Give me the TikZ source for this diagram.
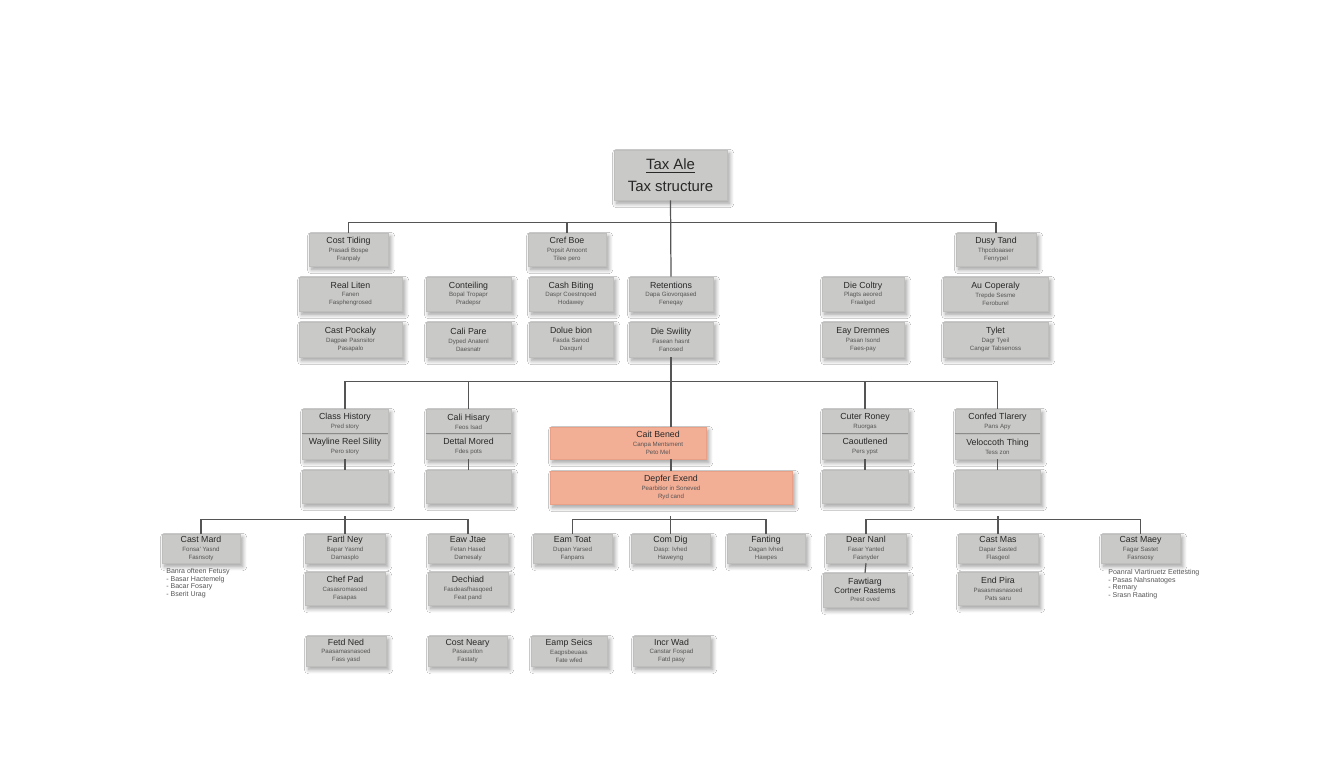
\documentclass[tikz,border=0pt]{standalone}
\usepackage{fontspec}
\setmainfont{Liberation Sans}
\usetikzlibrary{shadows.blur}
\definecolor{boxgray}{RGB}{201,201,199}
\definecolor{boxedge}{RGB}{190,190,188}
\definecolor{boxorange}{RGB}{243,174,150}
\definecolor{orangeedge}{RGB}{232,160,134}
\definecolor{linkgray}{RGB}{85,85,85}
\definecolor{inkgray}{RGB}{40,40,40}
\definecolor{subgray}{RGB}{85,85,85}
\newcommand{\cardtext}[3]{{\fontsize{5}{6}\selectfont\color{inkgray}#1}\\[0.4pt]#2\\#3}
\newcommand{\halftext}[2]{{\fontsize{5}{6}\selectfont\color{inkgray}#1}\\[0.4pt]#2}
\tikzset{
  flat/.style={draw=boxedge, line width=0.3pt, fill=boxgray, inner sep=0pt, align=center,
    text=subgray, font=\fontsize{3.5}{4.6}\selectfont},
  card/.style={flat,
    blur shadow={shadow xshift=1.5pt, shadow yshift=-2pt, shadow blur radius=2.4pt,
      shadow blur steps=10, shadow opacity=40}},
  hotcard/.style={card, fill=boxorange, draw=orangeedge},
  wd/.style={minimum width=#1*0.02cm},
  ht/.style={minimum height=#1*0.02cm},
  link/.style={draw=linkgray, line width=0.7pt},
  divider/.style={draw=black!45, line width=0.5pt},
  notes/.style={anchor=north west, align=left, inner sep=0pt, text=subgray, font=\fontsize{4}{4.4}\selectfont},
}

\begin{document}
\begin{tikzpicture}[x=0.02cm, y=-0.02cm]
  %%%%% START %%%%%
  \fill[white] (0,0) rectangle (1344,768);
  \useasboundingbox (0,0) rectangle (1344,768);

  \node[card, wd=113, ht=50, text=inkgray, font=\fontsize{8.5}{12.5}\selectfont] (root) at (670.5,175) {\underline{Tax Ale}\\Tax structure};

  % first row
  \node[card, wd=79, ht=33] (tiding) at (348.5,249.5) {\cardtext{Cost Tiding}{Prasadi Bospe}{Franpaly}};
  \node[card, wd=78, ht=33] (cref) at (567,249.5) {\cardtext{Cref Boe}{Popsit Amoont}{Tilee pero}};
  \node[card, wd=80, ht=33] (dusy) at (996,249.5) {\cardtext{Dusy Tand}{Thpcdoaaser}{Fenrypel}};

  \node[card, wd=103, ht=34] (liten) at (350.5,294) {\cardtext{Real Liten}{Fanen}{Fasphengrosed}};
  \node[card, wd=85, ht=34] (conteil) at (468.5,294) {\cardtext{Conteiling}{Bopal Tropapr}{Pradepsr}};
  \node[card, wd=84, ht=34] (biting) at (571,294) {\cardtext{Cash Biting}{Daspr Coestnqoed}{Hodawey}};
  \node[card, wd=84, ht=34] (retent) at (671,294) {\cardtext{Retentions}{Dapa Giovorqased}{Feneqay}};
  \node[card, wd=82, ht=34] (coltry) at (863,294) {\cardtext{Die Coltry}{Plagts aeored}{Fraalged}};
  \node[card, wd=105, ht=34] (coper) at (995.5,294) {\cardtext{Au Coperaly}{Trepde Sesme}{Feroburel}};

  \node[card, wd=103, ht=35] (pockaly) at (350.5,339.5) {\cardtext{Cast Pockaly}{Dagpae Pasnsitor}{Pasapalo}};
  \node[card, wd=85, ht=35] (pare) at (468.5,339.5) {\cardtext{Cali Pare}{Dyped Anatenl}{Daesnatr}};
  \node[card, wd=84, ht=35] (dolue) at (571,339.5) {\cardtext{Dolue bion}{Fasda Sanod}{Daxqunl}};
  \node[card, wd=84, ht=35] (swility) at (671,339.5) {\cardtext{Die Swility}{Fasean hasnt}{Fanosed}};
  \node[card, wd=82, ht=35] (dremnes) at (863,339.5) {\cardtext{Eay Dremnes}{Pasan Isond}{Faes-pay}};
  \node[card, wd=105, ht=35] (tylet) at (995.5,339.5) {\cardtext{Tylet}{Dagr Tyeil}{Cangar Tabsenoss}};

  % second row
  \node[card, wd=86, ht=50] (cellA) at (345,434) {};
  \node[flat, wd=86, ht=25] (hiA) at (345,421.5) {\halftext{Class History}{Pred story}};
  \node[flat, wd=86, ht=25] (loA) at (345,446.5) {\halftext{Wayline Reel Sility}{Pero story}};
  \node[card, wd=85, ht=50] (cellB) at (468.5,434) {};
  \node[flat, wd=85, ht=25] (hiB) at (468.5,421.5) {\halftext{Cali Hisary}{Feos Isad}};
  \node[flat, wd=85, ht=25] (loB) at (468.5,446.5) {\halftext{Dettal Mored}{Fdes pots}};
  \node[card, wd=86, ht=50] (cellC) at (865,434) {};
  \node[flat, wd=86, ht=25] (hiC) at (865,421.5) {\halftext{Cuter Roney}{Ruorgas}};
  \node[flat, wd=86, ht=25] (loC) at (865,446.5) {\halftext{Caoutlened}{Pers ypst}};
  \node[card, wd=85, ht=50] (cellD) at (997.5,434) {};
  \node[flat, wd=85, ht=25] (hiD) at (997.5,421.5) {\halftext{Confed Tlarery}{Pans Apy}};
  \node[flat, wd=85, ht=25] (loD) at (997.5,446.5) {\halftext{Veloccoth Thing}{Tess zon}};
  \foreach \n in {A,B,C,D}
    \draw[divider] (lo\n.north west) -- (lo\n.north east);

  \node[card, wd=86, ht=33] (blankA) at (345,486.5) {};
  \node[card, wd=85, ht=33] (blankB) at (468.5,486.5) {};
  \node[card, wd=86, ht=33] (blankC) at (865,486.5) {};
  \node[card, wd=85, ht=33] (blankD) at (997.5,486.5) {};

  \node[hotcard, wd=156, ht=32, label={[xshift=30*0.02cm, align=center, text=subgray, font=\fontsize{3.5}{4.6}\selectfont]center:\cardtext{Cait Bened}{Canpa Mentsment}{Peto Mel}}] (hot1) at (628,443) {};
  \node[hotcard, wd=242, ht=33] (hot2) at (671,487.5) {\cardtext{Depfer Exend}{Pearbitior in Soneved}{Ryd cand}};

  % third row
  \node[card, wd=78, ht=29] (mard) at (201,548.5) {\cardtext{Cast Mard}{Fonsa' Yasnd}{Fasnsoty}};
  \node[card, wd=80, ht=29] (ney) at (345,548.5) {\cardtext{Fartl Ney}{Bapar Yasmd}{Damasplo}};
  \node[card, wd=80, ht=29] (jtae) at (468,548.5) {\cardtext{Eaw Jtae}{Fetan Hased}{Damesaly}};
  \node[card, wd=79, ht=29] (toat) at (572.5,548.5) {\cardtext{Eam Toat}{Dupan Yarsed}{Fanpans}};
  \node[card, wd=79, ht=29] (dig) at (670.5,548.5) {\cardtext{Com Dig}{Dasp: Ivhed}{Haweyng}};
  \node[card, wd=78, ht=29] (fant) at (766,548.5) {\cardtext{Fanting}{Dagan Ivhed}{Hawpes}};
  \node[card, wd=80, ht=29] (nanl) at (866,548.5) {\cardtext{Dear Nanl}{Fasar Yanted}{Fasnyder}};
  \node[card, wd=80, ht=29] (mas) at (998,548.5) {\cardtext{Cast Mas}{Dapar Sasted}{Flasgeol}};
  \node[card, wd=79, ht=29] (maey) at (1140.5,548.5) {\cardtext{Cast Maey}{Fagar Sastet}{Fasnsosy}};

  \node[card, wd=80, ht=33] (chef) at (345,588.5) {\cardtext{Chef Pad}{Casasromasoed}{Fasapas}};
  \node[card, wd=80, ht=33] (dechiad) at (468,588.5) {\cardtext{Dechiad}{Fasdeasfhasqoed}{Feat pand}};
  \node[card, wd=84, ht=34] (fawt) at (865,590) {{\fontsize{5}{6}\selectfont\color{inkgray}Fawtiarg}\\[0.4pt]{\fontsize{4.6}{5.4}\selectfont\color{inkgray}Cortner Rastems}\\Prest oved};
  \node[card, wd=80, ht=33] (pira) at (998,588.5) {\cardtext{End Pira}{Pasasmasnasoed}{Pats saru}};

  \node[notes] (leftnote) at (166,568) {Banra ofteen Fetusy\\- Basar Hactemelg\\- Bacar Fosary\\- Bserit Urag};
  \node[notes] (rightnote) at (1108,569) {Poanral Vlartiruetz Eettesting\\- Pasas Nahsnatoges\\- Remary\\- Srasn Raating};

  \node[card, wd=80, ht=30] (fetd) at (346,651) {\cardtext{Fetd Ned}{Paasamasnasoed}{Fass yasd}};
  \node[card, wd=79, ht=30] (neary) at (467.5,651) {\cardtext{Cost Neary}{Pasaustlon}{Fastaty}};
  \node[card, wd=76, ht=30] (seics) at (569,651) {\cardtext{Eamp Seics}{Eaqpsbeuaas}{Fate wfed}};
  \node[card, wd=77, ht=30] (wad) at (671.5,651) {\cardtext{Incr Wad}{Canstar Fospad}{Fatd pasy}};

  % connectors
  \draw[link] (root.south) -- (retent.north);
  \draw[link] (tiding.north) -- ++(0,-10) -| (dusy.north);
  \draw[link] (cref.north) -- ++(0,-10);

  \draw[link] (cellA.north) -- ++(0,-27) -| (cellD.north);
  \draw[link] (cellB.north) -- ++(0,-27);
  \draw[link] (cellC.north) -- ++(0,-27);
  \foreach \n in {A,B,C,D}
    \draw[link] (cell\n.south) -- (blank\n.north);
  \draw[link] (swility.south) -- (swility.south |- hot1.north);
  \draw[link] (hot1.south -| swility.south) -- (hot2.north -| swility.south);

  \draw[link] (mard.north) -- ++(0,-14) -| (jtae.north);
  \draw[link] (ney.north) -- ++(0,-18);
  \draw[link] (toat.north) -- ++(0,-14) -| (fant.north);
  \draw[link] (dig.north) -- ++(0,-18);
  \draw[link] (nanl.north) -- ++(0,-14) -| (maey.north);
  \draw[link] (mas.north) -- ++(0,-18);
  \draw[link] (nanl.south) -- (fawt.north);
  %%%%% END %%%%%
\end{tikzpicture}
\end{document}
